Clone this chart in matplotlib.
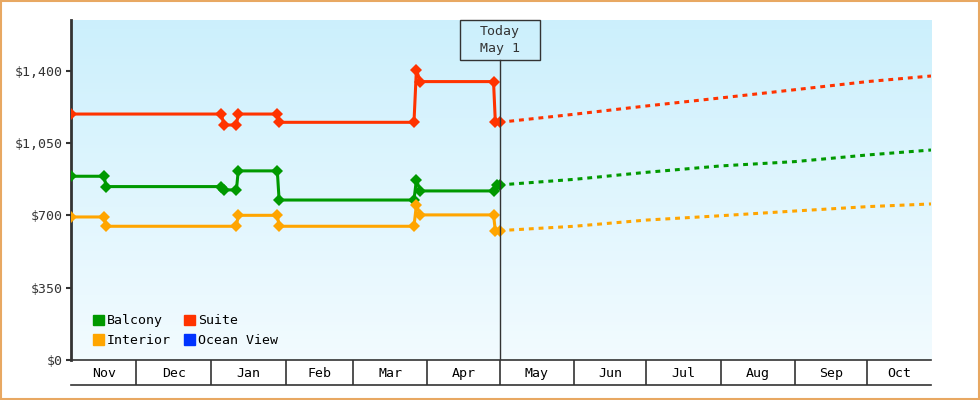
import numpy as np
import pandas as pd
import matplotlib
matplotlib.use("Agg")
import matplotlib.pyplot as plt
import matplotlib.dates as mdates
import matplotlib.transforms as mtransforms
from matplotlib.patches import Patch, Rectangle
from matplotlib.lines import Line2D

x_start, x_end, today = "2024-11-03 19:00", "2025-10-27 10:00", "2025-05-01 00:00"

# price history (observed), one point per price change
suite_dates = [x_start, "2025-01-05 08:00", "2025-01-06 08:00", "2025-01-11 14:00",
               "2025-01-12 08:00", "2025-01-28 14:00", "2025-01-29 08:00",
               "2025-03-26 10:00", "2025-03-27 10:00", "2025-03-29 02:00",
               "2025-04-28 12:00", "2025-04-29 06:00", today]
suite_prices = [1190, 1190, 1137, 1137, 1190, 1190, 1150, 1150, 1403, 1347, 1347, 1150, 1150]

balcony_dates = [x_start, "2024-11-17 12:00", "2024-11-18 10:00", "2025-01-05 08:00",
                 "2025-01-06 08:00", "2025-01-11 14:00", "2025-01-12 08:00",
                 "2025-01-28 14:00", "2025-01-29 08:00", "2025-03-26 10:00",
                 "2025-03-27 10:00", "2025-03-29 02:00", "2025-04-28 12:00",
                 "2025-04-29 18:00", today]
balcony_prices = [889, 889, 839, 839, 823, 823, 915, 915, 774, 774, 871, 818, 818, 847, 847]

interior_dates = [x_start, "2024-11-17 12:00", "2024-11-18 10:00", "2025-01-11 14:00",
                  "2025-01-12 08:00", "2025-01-28 14:00", "2025-01-29 08:00",
                  "2025-03-26 10:00", "2025-03-27 10:00", "2025-03-29 02:00",
                  "2025-04-28 12:00", "2025-04-29 06:00", today]
interior_prices = [692, 692, 647, 647, 700, 700, 647, 647, 750, 702, 702, 626, 626]

# forecast
forecast_dates = [today, "2025-06-01 00:00", "2025-07-01 00:00", "2025-08-01 00:00",
                  "2025-09-01 00:00", "2025-10-01 00:00", x_end]
suite_forecast = [1150, 1189, 1229, 1268, 1308, 1347, 1374]
balcony_forecast = [847, 874, 908, 939, 960, 992, 1016]
interior_forecast = [626, 647, 677, 698, 721, 742, 755]

y_ticks = [0, 350, 700, 1050, 1400]
y_labels = ["$0", "$350", "$700", "$1,050", "$1,400"]
month_names = ["Nov", "Dec", "Jan", "Feb", "Mar", "Apr",
               "May", "Jun", "Jul", "Aug", "Sep", "Oct"]

c_balcony, c_suite = "#009900", "#ff3300"
c_interior, c_ocean = "#ffa500", "#0033ff"
dark = "#333333"

plt.rcParams["font.family"] = "DejaVu Sans Mono"
plt.rcParams["font.size"] = 9.5

fig = plt.figure(figsize=(9.8, 4), dpi=100)
ax = fig.add_axes([71 / 980, 40 / 400, 860 / 980, 340 / 400])

# gradient background
grad = np.linspace(0, 1, 256)[:, None]
top = np.array([0.80, 0.94, 0.99])
bot = np.array([0.95, 0.985, 1.0])
img = top[None, None, :] * (1 - grad[:, :, None]) + bot[None, None, :] * grad[:, :, None]
ax.imshow(img, extent=[0, 1, 0, 1], transform=ax.transAxes, aspect="auto", zorder=0)

def d(lst):
    return pd.to_datetime(lst, format="%Y-%m-%d %H:%M")

for dates, prices, fp, col in [
    (suite_dates, suite_prices, suite_forecast, c_suite),
    (balcony_dates, balcony_prices, balcony_forecast, c_balcony),
    (interior_dates, interior_prices, interior_forecast, c_interior),
]:
    ax.plot(d(dates), prices, color=col, lw=2.2, marker="D", ms=6.5, mew=0, zorder=3)
    ax.plot(d(forecast_dates), fp, color=col, lw=2.2, dashes=(1.6, 1.6), zorder=3)

ax.set_xlim(pd.Timestamp(x_start), pd.Timestamp(x_end))
ax.set_ylim(0, 1645)

# y axis
ax.set_yticks(y_ticks)
ax.set_yticklabels(y_labels)
ax.tick_params(axis="y", length=3.6, width=1.5, color=dark, labelcolor=dark, pad=2)

# x axis: month separators as major ticks, names centered as minor ticks
month_starts = pd.date_range("2024-12-01", "2025-10-01", freq="MS")
bounds = [pd.Timestamp(x_start)] + list(month_starts) + [pd.Timestamp(x_end)]
centers = [a + (b - a) / 2 for a, b in zip(bounds[:-1], bounds[1:])]
ax.set_xticks(month_starts)
ax.set_xticklabels([])
ax.set_xticks(centers, minor=True)
ax.set_xticklabels(month_names, minor=True)
ax.tick_params(axis="x", which="major", length=18, width=1.2, color=dark)
ax.tick_params(axis="x", which="minor", length=0, pad=5, labelcolor="black")

for s in ["top", "right"]:
    ax.spines[s].set_visible(False)
ax.spines["left"].set_color(dark)
ax.spines["left"].set_linewidth(2)
ax.spines["bottom"].set_color(dark)
ax.spines["bottom"].set_linewidth(1.2)
ax.add_line(Line2D([0, 1], [-25 / 340, -25 / 340], transform=ax.transAxes,
                   color=dark, lw=1.2, clip_on=False))

# today marker
trans = mtransforms.blended_transform_factory(ax.transData, ax.transAxes)
t = mdates.date2num(pd.Timestamp(today))
box_h = 40 / 340
half_w = 40 / 2.4046
ax.add_patch(Rectangle((t - half_w, 1 - box_h), 2 * half_w, box_h, transform=trans,
                       facecolor="none", edgecolor=dark, lw=1, zorder=4, clip_on=False))
ax.add_line(Line2D([t, t], [0, 1 - box_h], transform=trans, color=dark, lw=1, zorder=4))
ax.text(t, 1 - box_h / 2, "Today\nMay 1", transform=trans, ha="center", va="center",
        color=dark, linespacing=1.45, zorder=5)

handles = [Patch(color=c_balcony, label="Balcony"), Patch(color=c_interior, label="Interior"),
           Patch(color=c_suite, label="Suite"), Patch(color=c_ocean, label="Ocean View")]
ax.legend(handles=handles, ncol=2, loc="lower left", bbox_to_anchor=(0.026, 0.038),
          frameon=False, borderpad=0, borderaxespad=0, handlelength=0.8, handleheight=0.8,
          handletextpad=0.25, columnspacing=1.0, labelspacing=0.5, fontsize=9.5)

fig.patches.append(Rectangle((0.001, 0.002), 0.998, 0.996, transform=fig.transFigure,
                             fill=False, edgecolor="#e8a862", lw=1.5))

fig.savefig("out.png", dpi=100)
